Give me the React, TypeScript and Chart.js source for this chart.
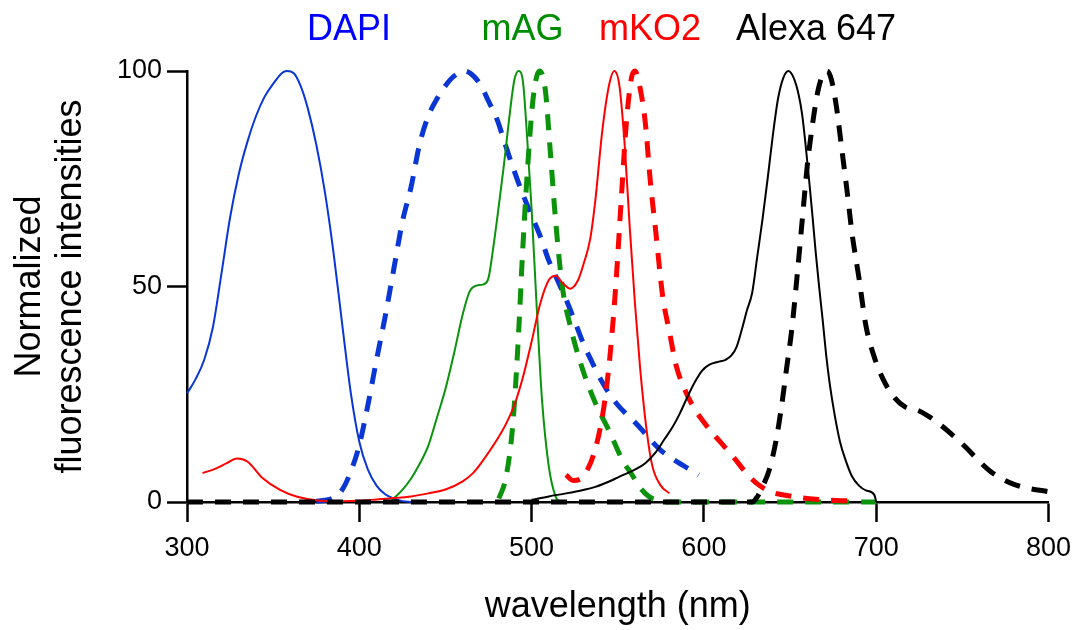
import { useEffect, useRef } from 'react';
import { Chart, registerables } from 'chart.js';

Chart.register(...registerables);

const FONT = '"Liberation Sans", Arial, Helvetica, sans-serif';

// Axis ticks
const xTicks = [300, 400, 500, 600, 700, 800];
const yTicks = [0, 50, 100];

// DAPI excitation (solid) and emission (dashed)
const dapiExWl = [300, 305, 310, 315, 320, 325, 330, 335, 340, 345, 350, 355, 358, 362, 366, 370, 375, 380, 385, 390, 395, 400, 405, 410, 415, 420, 425, 430];
const dapiExVal = [25.2, 28.5, 33, 40.5, 53, 66, 76, 83.5, 89.5, 94, 97, 99.5, 100, 99.5, 96.5, 91.5, 83, 72, 58, 41.5, 25.5, 14, 7.5, 3.8, 1.8, 0.8, 0.2, 0];
const dapiEmWl = [375, 380, 385, 390, 395, 400, 405, 410, 415, 420, 425, 430, 435, 440, 445, 450, 455, 461, 465, 470, 475, 480, 485, 490, 495, 500, 505, 510, 515, 520, 525, 530, 535, 540, 545, 550, 555, 560, 565, 570, 575, 580, 585, 590, 597];
const dapiEmVal = [0.2, 0.4, 1, 2.8, 7, 13.2, 22.5, 33, 43, 54, 65, 73, 83, 89.5, 93.5, 96.6, 98.8, 100, 99.3, 97, 93, 88.7, 82.6, 76.7, 71.3, 66.5, 61.7, 56, 51.5, 47, 42, 36.8, 32.5, 28.5, 25.2, 22.5, 20.4, 18.5, 16.3, 14, 12, 10.5, 9.2, 8, 6.3];

// mAG excitation (solid) and emission (dashed)
const magExWl = [418, 420, 425, 430, 435, 440, 445, 450, 455, 460, 464, 468, 472, 475, 478, 481, 484, 487, 490, 492.5, 495, 497.5, 500, 503, 506, 510, 514, 517];
const magExVal = [0, 0.8, 2.8, 5.4, 8.8, 13, 19.5, 26.2, 34.5, 43.5, 48.8, 50.2, 50.5, 52, 59.7, 68.8, 78.4, 89, 97.9, 100, 97.5, 84, 68, 45, 24, 8.2, 1.2, 0];
const magEmWl = [481, 485, 489, 492, 495, 498, 501, 504.5, 508, 511, 514, 518, 523, 529, 537, 545, 553, 558, 563, 568, 574, 580, 640, 700];
const magEmVal = [0.8, 5.5, 17.5, 35.8, 59.6, 79.4, 94, 100, 95.5, 80.5, 65, 49.5, 40, 31.5, 23, 16.5, 9.5, 6.5, 3.3, 1.3, 0.3, 0, 0, 0];

// mKO2 excitation (solid) and emission (dashed)
const mko2ExWl = [309, 317, 323, 329, 335, 344, 354, 364, 377, 390, 400, 410, 420, 430, 440, 450, 460, 466, 471, 480, 485, 490, 495, 500, 505, 510, 514, 518, 522.5, 527, 530, 534, 537, 541, 545, 548, 551, 554, 557, 560, 563, 566.5, 570, 575, 580];
const mko2ExVal = [6.7, 7.8, 9, 10.1, 9.4, 5.5, 2.8, 1.2, 0.3, 0.2, 0.3, 0.6, 0.9, 1.3, 2, 2.9, 4.8, 6.7, 9.2, 14.5, 18, 22.5, 29, 37.2, 46, 51.5, 52.5, 50.8, 49.5, 51.5, 55, 61, 70, 86, 96.8, 100, 96.5, 83, 63.5, 46, 31, 17.5, 8.5, 3.8, 2];
const mko2EmWl = [520, 524, 528, 532, 536, 540, 543, 546, 549, 552, 555, 558, 560, 562.5, 566, 569, 572, 576, 580, 584, 589, 594, 600, 605, 612, 618, 624, 631, 640, 650, 660, 670, 680, 690];
const mko2EmVal = [6.3, 5, 5.3, 7.2, 11, 17.5, 25, 36, 51, 70, 88, 98.5, 100, 97, 88, 74, 63, 48, 39.5, 31.5, 26, 22, 18.5, 16, 12.8, 10, 7, 4.2, 2.2, 1.4, 0.8, 0.5, 0.3, 0.2];

// Alexa 647 excitation (solid) and emission (dashed)
const alexaExWl = [500, 510, 520, 530, 537, 547, 551, 560, 566, 572, 577, 582, 586, 590, 595, 599, 603, 608, 612.6, 616, 619, 622, 625, 628, 631, 634, 637, 640, 643, 646, 649, 652, 655, 657, 659, 661, 663, 665, 667, 669, 671, 673, 676, 679, 682, 686, 690, 694, 699, 700];
const alexaExVal = [0.5, 1.3, 2, 2.8, 3.5, 5.1, 5.9, 7.5, 9, 11.5, 14.5, 17.5, 20.5, 24, 28, 30.5, 31.8, 32.5, 33, 34, 36, 40, 44.5, 48.5, 57, 65.5, 75, 85, 93.5, 98.3, 100, 98.5, 94.5, 90, 83, 75, 66.5, 57.5, 49.5, 42, 34, 27.5, 20, 14, 10, 5.9, 3.8, 2.7, 1.6, 0];
const alexaEmWl = [300, 400, 500, 600, 628, 631, 634, 638, 642, 645, 648, 651, 654, 657, 660, 663, 666, 669, 671.5, 674, 677, 680, 683, 686, 690, 694, 699, 704, 710, 717, 724, 730, 737, 745, 752, 759, 766, 773, 780, 788, 800];
const alexaEmVal = [0, 0, 0, 0, 0, 1.2, 3.5, 7.5, 14.5, 22, 31, 40, 52, 65, 78, 87.5, 95, 99.2, 100, 98, 91.5, 82, 72.5, 62.3, 52, 41, 33.5, 28.5, 24.5, 22, 21.3, 20, 18, 15.3, 12.7, 9.8, 7.2, 5.4, 4.1, 3.2, 2.4];

// Dye names shown above the plot
const dyeNames = ['DAPI', 'mAG', 'mKO2', 'Alexa 647'];
const dyeTextColors = ['#0000ff', '#008c00', '#ff0000', '#000000'];
const dyeLabelCenters = [349, 522.5, 650, 816];

const BLUE = '#0a36d4';
const GREEN = '#0b930b';
const RED = '#ff0000';
const BLACK = '#000000';

const pts = (wl: number[], val: number[]) => wl.map((x, i) => ({ x, y: val[i] }));

const series = [
  { wl: dapiExWl, val: dapiExVal, color: BLUE, dashed: false },
  { wl: dapiEmWl, val: dapiEmVal, color: BLUE, dashed: true },
  { wl: magExWl, val: magExVal, color: GREEN, dashed: false },
  { wl: magEmWl, val: magEmVal, color: GREEN, dashed: true },
  { wl: mko2ExWl, val: mko2ExVal, color: RED, dashed: false },
  { wl: mko2EmWl, val: mko2EmVal, color: RED, dashed: true },
  { wl: alexaExWl, val: alexaExVal, color: BLACK, dashed: false },
  { wl: alexaEmWl, val: alexaEmVal, color: BLACK, dashed: true },
];

export default function App() {
  const canvasRef = useRef<HTMLCanvasElement | null>(null);

  useEffect(() => {
    const canvas = canvasRef.current;
    if (!canvas) return;

    const datasets = series.map((s, i) => ({
      data: pts(s.wl, s.val),
      borderColor: s.color,
      backgroundColor: s.color,
      borderWidth: s.dashed ? 5 : 2,
      borderDash: s.dashed ? [16, 12] : [],
      pointRadius: 0,
      fill: false,
      cubicInterpolationMode: 'monotone' as const,
      clip: false as const,
      order: series.length - i,
    }));

    const tickFont = { family: FONT, size: 27 };
    const titleFont = { family: FONT, size: 36, lineHeight: 1.15 };

    const chart = new Chart(canvas, {
      type: 'line',
      data: { datasets },
      options: {
        animation: false,
        responsive: false,
        maintainAspectRatio: false,
        layout: { padding: { top: 71, right: 28, left: 0, bottom: 0 } },
        plugins: { legend: { display: false }, tooltip: { enabled: false } },
        scales: {
          x: {
            type: 'linear',
            min: 300,
            max: 800,
            afterBuildTicks: (s: any) => {
              s.ticks = xTicks.map((v) => ({ value: v }));
            },
            afterFit: (s: any) => {
              s.height = 128;
            },
            ticks: { font: tickFont, color: '#000', padding: 10, maxRotation: 0 },
            grid: {
              display: true,
              drawOnChartArea: false,
              drawTicks: true,
              tickLength: 20,
              tickWidth: 2.5,
              tickColor: '#000',
            },
            border: { display: true, color: '#000', width: 2.5 },
            title: {
              display: true,
              text: 'wavelength (nm)',
              font: titleFont,
              color: '#000',
              padding: { top: 0, bottom: 2 },
            },
          },
          y: {
            type: 'linear',
            min: 0,
            max: 100,
            afterBuildTicks: (s: any) => {
              s.ticks = yTicks.map((v) => ({ value: v }));
            },
            afterFit: (s: any) => {
              s.width = 187;
            },
            ticks: { font: tickFont, color: '#000', padding: 5 },
            grid: {
              display: true,
              drawOnChartArea: false,
              drawTicks: true,
              tickLength: 20,
              tickWidth: 2.5,
              tickColor: '#000',
            },
            border: { display: true, color: '#000', width: 2.5 },
            title: {
              display: true,
              text: ['Normalized', 'fluorescence intensities'],
              font: titleFont,
              color: '#000',
              padding: { top: 9, bottom: 0 },
            },
          },
        },
      },
    });

    return () => chart.destroy();
  }, []);

  return (
    <div style={{ position: 'fixed', left: 0, top: 0, width: 1081, height: 630, background: '#fff' }}>
      <canvas ref={canvasRef} width={1081} height={630} style={{ display: 'block' }} />
      {dyeNames.map((name, i) => (
        <div
          key={name}
          style={{
            position: 'absolute',
            left: dyeLabelCenters[i],
            top: 10,
            transform: 'translateX(-50%)',
            fontFamily: FONT,
            fontSize: 36,
            lineHeight: '36px',
            whiteSpace: 'nowrap',
            color: dyeTextColors[i],
          }}
        >
          {name}
        </div>
      ))}
    </div>
  );
}
